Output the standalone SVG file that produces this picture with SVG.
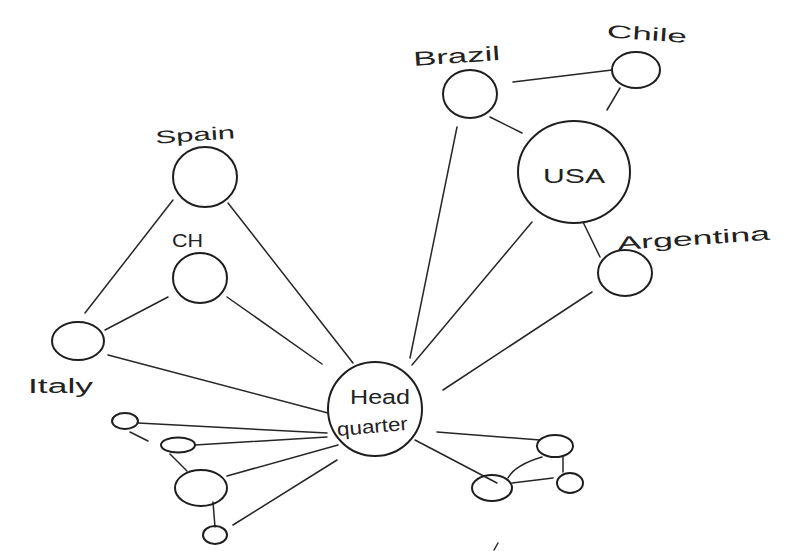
<svg xmlns="http://www.w3.org/2000/svg" width="795" height="551" viewBox="0 0 795 551">
  <style>
    .node { fill: none; stroke: #1e1e1e; stroke-width: 2; }
    .link { fill: none; stroke: #262626; stroke-width: 1.5; stroke-linecap: round; }
    .label { font-family: "Liberation Sans", "DejaVu Sans", sans-serif; fill: #222222; }
  </style>
  <rect width="795" height="551" fill="#ffffff"/>

  <!-- connectors -->
  <g id="connectors">
    <!-- hub spokes -->
    <line class="link" x1="228" y1="203" x2="353" y2="363"/>
    <line class="link" x1="227" y1="297" x2="322" y2="364"/>
    <line class="link" x1="108" y1="355" x2="328" y2="413"/>
    <line class="link" x1="457" y1="127" x2="410" y2="358"/>
    <line class="link" x1="532" y1="222" x2="412" y2="365"/>
    <line class="link" x1="592" y1="292" x2="443" y2="390"/>
    <line class="link" x1="138" y1="423" x2="327" y2="433"/>
    <line class="link" x1="195" y1="445" x2="327" y2="437"/>
    <line class="link" x1="227" y1="476" x2="338" y2="445"/>
    <line class="link" x1="233" y1="525" x2="337" y2="460"/>
    <path class="link" d="M437 432 Q490 436 540 440"/>
    <line class="link" x1="415" y1="440" x2="497" y2="483"/>
    <!-- west group -->
    <line class="link" x1="173" y1="200" x2="85" y2="313"/>
    <line class="link" x1="168" y1="297" x2="105" y2="330"/>
    <!-- south-west group -->
    <line class="link" x1="130" y1="432" x2="148" y2="441"/>
    <line class="link" x1="170" y1="454" x2="187" y2="471"/>
    <line class="link" x1="213" y1="502" x2="215" y2="527"/>
    <!-- south-east group -->
    <path class="link" d="M542 457 Q515 465 508 478"/>
    <line class="link" x1="512" y1="483" x2="553" y2="478"/>
    <line class="link" x1="563" y1="457" x2="563" y2="472"/>
    <!-- americas group -->
    <line class="link" x1="513" y1="82" x2="612" y2="70"/>
    <line class="link" x1="620" y1="88" x2="607" y2="110"/>
    <line class="link" x1="490" y1="117" x2="522" y2="133"/>
    <line class="link" x1="583" y1="222" x2="600" y2="257"/>
    <!-- stray pen mark -->
    <line class="link" x1="494" y1="550" x2="498" y2="543"/>
  </g>

  <g id="headquarters">
    <ellipse class="node" cx="375" cy="409" rx="47" ry="47"/>
    <text class="label" x="350" y="404" font-size="20" textLength="60" lengthAdjust="spacingAndGlyphs">Head</text>
    <text class="label" x="337" y="433" font-size="19" textLength="71" lengthAdjust="spacingAndGlyphs" transform="rotate(-5 372 428)">quarter</text>
  </g>

  <g id="usa">
    <ellipse class="node" cx="574" cy="172" rx="56" ry="51"/>
    <text class="label" x="543" y="183" font-size="21" textLength="62" lengthAdjust="spacingAndGlyphs">USA</text>
  </g>

  <g id="brazil">
    <ellipse class="node" cx="470" cy="94" rx="27" ry="24"/>
    <text class="label" x="413" y="63" font-size="20" textLength="87" lengthAdjust="spacingAndGlyphs" transform="rotate(-4 456 55)">Brazil</text>
  </g>

  <g id="chile">
    <ellipse class="node" cx="636" cy="70" rx="24" ry="18"/>
    <text class="label" x="607" y="40" font-size="18" textLength="80" lengthAdjust="spacingAndGlyphs" transform="rotate(4 647 33)">Chile</text>
  </g>

  <g id="argentina">
    <ellipse class="node" cx="625" cy="273" rx="27" ry="23"/>
    <text class="label" x="617" y="245" font-size="19" textLength="153" lengthAdjust="spacingAndGlyphs" transform="rotate(-4 693 236)">Argentina</text>
  </g>

  <g id="spain">
    <ellipse class="node" cx="205" cy="177" rx="32" ry="30"/>
    <text class="label" x="155" y="141" font-size="18" textLength="80" lengthAdjust="spacingAndGlyphs" transform="rotate(-4 195 133)">Spain</text>
  </g>

  <g id="ch">
    <ellipse class="node" cx="200" cy="278" rx="27" ry="25"/>
    <text class="label" x="172" y="247" font-size="19" textLength="31" lengthAdjust="spacingAndGlyphs">CH</text>
  </g>

  <g id="italy">
    <ellipse class="node" cx="78" cy="341" rx="26" ry="19"/>
    <text class="label" x="28" y="393" font-size="20" textLength="65" lengthAdjust="spacingAndGlyphs">Italy</text>
  </g>

  <g id="sw-1">
    <ellipse class="node" cx="125" cy="421" rx="13" ry="8"/>
  </g>
  <g id="sw-2">
    <ellipse class="node" cx="178" cy="445" rx="17" ry="7.5"/>
  </g>
  <g id="sw-3">
    <ellipse class="node" cx="201" cy="488" rx="26" ry="18"/>
  </g>
  <g id="sw-4">
    <ellipse class="node" cx="215" cy="535" rx="12" ry="9"/>
  </g>

  <g id="se-1">
    <ellipse class="node" cx="555" cy="446" rx="18" ry="11"/>
  </g>
  <g id="se-2">
    <ellipse class="node" cx="492" cy="488" rx="20" ry="13"/>
  </g>
  <g id="se-3">
    <ellipse class="node" cx="570" cy="483" rx="13" ry="10"/>
  </g>
</svg>
